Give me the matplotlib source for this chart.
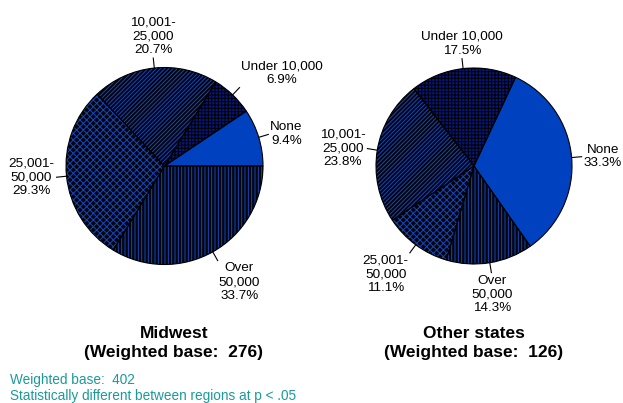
import matplotlib
matplotlib.use("Agg")
import matplotlib.pyplot as plt
import numpy as np

categories = ["None", "Under 10,000", "10,001-\n25,000", "25,001-\n50,000", "Over\n50,000"]
midwest = [9.4, 6.9, 20.7, 29.3, 33.7]
other_states = [33.3, 17.5, 23.8, 11.1, 14.3]
region_names = ["Midwest", "Other states"]
region_bases = [276, 126]
footnotes = ["Weighted base:  402", "Statistically different between regions at p < .05"]

W, H = 623, 403
plt.rcParams['font.family'] = ['Liberation Sans', 'DejaVu Sans']
plt.rcParams['hatch.linewidth'] = 0.7

fig = plt.figure(figsize=(W / 100, H / 100), dpi=100)
ax = fig.add_axes([0, 0, 1, 1])

faces = ['#0041BF', '#08177A', '#02040C', '#02040C', '#02040C']
hatches = ['', '+++++', '////////', 'xxxxx', '|||||']
hcolors = ['#0041BF', '#000000', '#1548BE', '#1548BE', '#1548BE']


def draw_pie(values, cx, cy, r, start, title_x, name, base):
    Y = H - cy
    wedges, _ = ax.pie(values, center=(cx, Y), radius=r, startangle=start,
                       colors=faces, hatch=hatches, frame=True,
                       wedgeprops=dict(linewidth=0))
    for w, hc in zip(wedges, hcolors):
        w.set_edgecolor(hc)
        w.set_linewidth(0)
    ax.pie(values, center=(cx, Y), radius=r, startangle=start, frame=True,
           wedgeprops=dict(fill=False, edgecolor='black', linewidth=0.8))
    for w, lab, v in zip(wedges, categories, values):
        ang = np.deg2rad((w.theta1 + w.theta2) / 2)
        c, s = np.cos(ang), np.sin(ang)
        x0, y0 = cx + r * c, Y + r * s
        x1, y1 = cx + (r + 10) * c, Y + (r + 10) * s
        ax.plot([x0, x1], [y0, y1], color='black', lw=0.8)
        xt, yt = cx + (r + 12) * c, Y + (r + 12) * s
        ha = 'left' if c > 0.3 else ('right' if c < -0.3 else 'center')
        va = 'bottom' if s > 0.3 else ('top' if s < -0.3 else 'center')
        ax.text(xt, yt, f"{lab}\n{v:.1f}%", ha=ha, va=va, multialignment='center',
                fontsize=9.7, linespacing=1.2)
    ax.text(title_x, H - 333, name, ha='center', va='center', fontsize=12.5,
            fontweight='bold')
    ax.text(title_x, H - 352, f"(Weighted base:  {base})", ha='center', va='center',
            fontsize=12.5, fontweight='bold')


draw_pie(midwest, 164.5, 166, 98.5, 0, 174, region_names[0], region_bases[0])
draw_pie(other_states, 474, 166, 98, -55, 474, region_names[1], region_bases[1])

for i, t in enumerate(footnotes):
    ax.text(10, H - 380 - 16 * i, t, ha='left', va='center', fontsize=9.8,
            color='#1A9A9A')

ax.set_xlim(0, W)
ax.set_ylim(0, H)
ax.set_aspect('auto')
ax.axis('off')
fig.savefig('out.png', dpi=100)
